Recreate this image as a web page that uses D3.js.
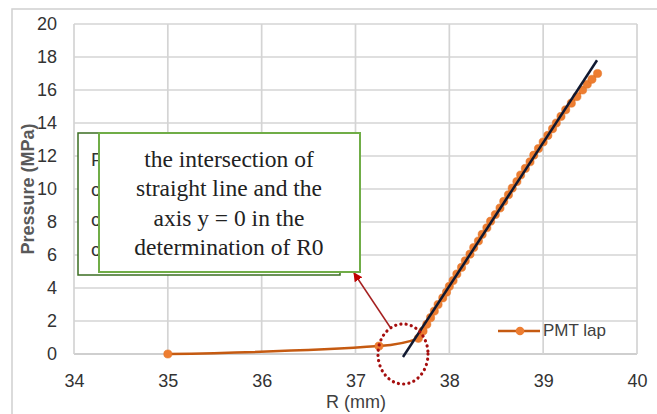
<!DOCTYPE html>
<html>
<head>
<meta charset="utf-8">
<script src="https://cdn.jsdelivr.net/npm/d3@7"></script>
<style>
  html, body { margin: 0; padding: 0; background: #fff; }
  svg { display: block; }
  .tick text { font-family: "Liberation Sans Narrow", "Liberation Sans", Arial, sans-serif; }
</style>
</head>
<body>
<svg id="chart" width="657" height="414"></svg>
<script>
// ---- data ----
const xTicks = [34, 35, 36, 37, 38, 39, 40];
const yTicks = [0, 2, 4, 6, 8, 10, 12, 14, 16, 18, 20];
const seriesName = "PMT lap";
const radius = [35.00, 37.25, 37.67, 37.72, 37.76, 37.80, 37.84, 37.88, 37.93, 37.97, 38.00, 38.04,
  38.08, 38.13, 38.17, 38.22, 38.26, 38.31, 38.35, 38.40, 38.44, 38.49, 38.54, 38.58, 38.63,
  38.67, 38.72, 38.76, 38.81, 38.86, 38.90, 38.95, 39.00, 39.05, 39.10, 39.14, 39.19, 39.24,
  39.30, 39.36, 39.42, 39.47, 39.52, 39.58];
const pressure = [0.00, 0.48, 0.95, 1.40, 1.80, 2.20, 2.60, 3.00, 3.40, 3.75, 4.10, 4.45,
  4.85, 5.25, 5.65, 6.05, 6.45, 6.85, 7.25, 7.65, 8.05, 8.45, 8.85, 9.25, 9.65,
  10.05, 10.45, 10.85, 11.25, 11.65, 12.05, 12.45, 12.85, 13.25, 13.65, 14.00, 14.40, 14.80,
  15.20, 15.60, 16.00, 16.35, 16.65, 17.00];
const fitX = [37.506, 39.574];
const fitY = [-0.18, 17.8];
const hiddenLetters = ["P", "c", "c", "c"];
const noteLines = ["the intersection of", "straight line and the", "axis y = 0 in the", "determination of R0"];
const xTitle = "R (mm)";
const yTitle = "Pressure (MPa)";

// ---- layout ----
const svg = d3.select("#chart");
const x = d3.scaleLinear().domain([34, 40]).range([74, 637]);
const y = d3.scaleLinear().domain([0, 20]).range([354, 24]);

// chart outer border
svg.append("rect").attr("x", 12).attr("y", 9).attr("width", 660).attr("height", 420)
  .attr("fill", "#fff").attr("stroke", "#d0d0d0").attr("stroke-width", 1.5);

// gridlines
svg.append("g").selectAll("line").data(yTicks).join("line")
  .attr("x1", x(34)).attr("x2", x(40)).attr("y1", d => y(d)).attr("y2", d => y(d))
  .attr("stroke", d => d === 0 ? "#bfbfbf" : "#d4d4d4").attr("stroke-width", 1.7);
svg.append("g").selectAll("line").data(xTicks).join("line")
  .attr("y1", y(0)).attr("y2", y(20)).attr("x1", d => x(d)).attr("x2", d => x(d))
  .attr("stroke", "#d4d4d4").attr("stroke-width", 1.7);

// axes (labels only)
const xAxis = d3.axisBottom(x).tickValues(xTicks).tickSize(0).tickPadding(20).tickFormat(d3.format("d"));
const gx = svg.append("g").attr("transform", `translate(0,${y(0)})`).call(xAxis);
gx.select(".domain").remove();
gx.selectAll("text").attr("font-size", 18).attr("fill", "#333");

const yAxis = d3.axisLeft(y).tickValues(yTicks).tickSize(0).tickPadding(17).tickFormat(d3.format("d"));
const gy = svg.append("g").attr("transform", `translate(${x(34)},0)`).call(yAxis);
gy.select(".domain").remove();
gy.selectAll("text").attr("font-size", 18).attr("fill", "#333");

// axis titles
svg.append("text").attr("x", 356).attr("y", 408).attr("text-anchor", "middle")
  .attr("font-family", "'Liberation Sans Narrow','Liberation Sans',Arial,sans-serif")
  .attr("font-size", 18).attr("fill", "#404040").text(xTitle);
svg.append("text").attr("transform", "translate(34,189) rotate(-90)").attr("text-anchor", "middle")
  .attr("font-family", "'Liberation Sans Narrow','Liberation Sans',Arial,sans-serif")
  .attr("font-size", 18).attr("font-weight", "bold").attr("fill", "#595959").text(yTitle);

// data line
const pts = radius.map((r, i) => [r, pressure[i]]);
const line = d3.line().x(d => x(d[0])).y(d => y(d[1])).curve(d3.curveMonotoneX);
svg.append("path").datum(pts).attr("d", line).attr("fill", "none")
  .attr("stroke", "#C55A11").attr("stroke-width", 2.5);
svg.append("g").selectAll("circle").data(pts).join("circle")
  .attr("cx", d => x(d[0])).attr("cy", d => y(d[1])).attr("r", 4.1)
  .attr("fill", "#ED7D31").attr("stroke", "#E07020").attr("stroke-width", 0.5);

// fitted straight line
svg.append("line").attr("x1", x(fitX[0])).attr("y1", y(fitY[0]))
  .attr("x2", x(fitX[1])).attr("y2", y(fitY[1]))
  .attr("stroke", "#101830").attr("stroke-width", 2.5);

// legend
svg.append("line").attr("x1", 498).attr("x2", 540).attr("y1", 331).attr("y2", 331)
  .attr("stroke", "#C55A11").attr("stroke-width", 2.5);
svg.append("circle").attr("cx", 520).attr("cy", 331).attr("r", 4.3).attr("fill", "#ED7D31");
svg.append("text").attr("x", 543).attr("y", 336)
  .attr("font-family", "'Liberation Sans Narrow','Liberation Sans',Arial,sans-serif")
  .attr("font-size", 17).attr("fill", "#404040").text(seriesName);

// dotted ellipse and arrow
svg.append("ellipse").attr("cx", 403).attr("cy", 354).attr("rx", 25).attr("ry", 30)
  .attr("fill", "none").attr("stroke", "#A50E0E").attr("stroke-width", 3.2)
  .attr("stroke-dasharray", "0.1 5.2").attr("stroke-linecap", "round");
const defs = svg.append("defs");
defs.append("marker").attr("id", "arr").attr("viewBox", "0 0 10 10").attr("refX", 9).attr("refY", 5)
  .attr("markerWidth", 6).attr("markerHeight", 6).attr("orient", "auto")
  .append("path").attr("d", "M0,0 L10,5 L0,10 z").attr("fill", "#C00000");
svg.append("line").attr("x1", 390).attr("y1", 327).attr("x2", 354).attr("y2", 273)
  .attr("stroke", "#A52020").attr("stroke-width", 1.5).attr("marker-end", "url(#arr)");

// back text box (mostly hidden)
svg.append("rect").attr("x", 78).attr("y", 133).attr("width", 262).attr("height", 142)
  .attr("fill", "#fff").attr("stroke", "#3B6E22").attr("stroke-width", 1.5);
svg.append("g").selectAll("text").data(hiddenLetters).join("text")
  .attr("x", 91).attr("y", (d, i) => 166 + i * 30)
  .attr("font-family", "'Liberation Sans',Arial,sans-serif").attr("font-size", 19)
  .attr("fill", "#333").text(d => d);

// front text box
svg.append("rect").attr("x", 99).attr("y", 133).attr("width", 261).attr("height", 139)
  .attr("fill", "#fff").attr("stroke", "#70AD47").attr("stroke-width", 2);
svg.append("g").selectAll("text").data(noteLines).join("text")
  .attr("x", 229).attr("y", (d, i) => 167 + i * 29.4).attr("text-anchor", "middle")
  .attr("font-family", "'Liberation Serif','Times New Roman',serif").attr("font-size", 23.5)
  .attr("fill", "#222").text(d => d);
</script>
</body>
</html>
